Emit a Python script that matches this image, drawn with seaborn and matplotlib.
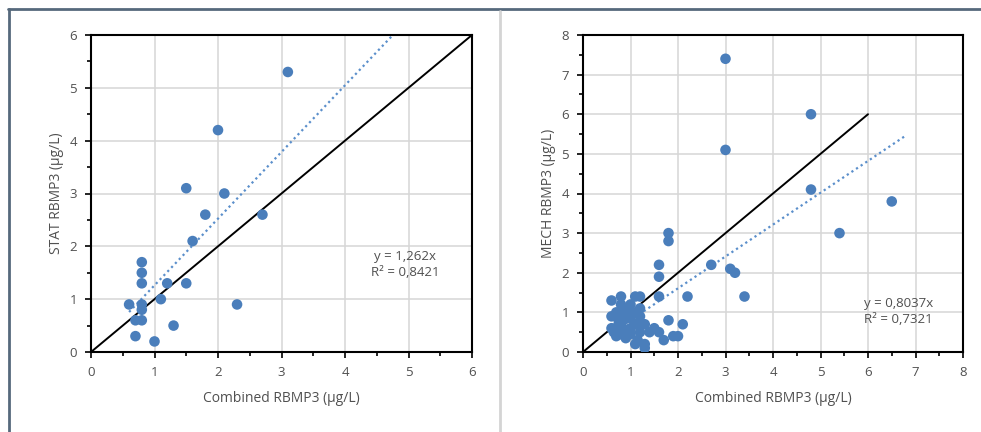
import numpy as np
import pandas as pd
import matplotlib
matplotlib.use('Agg')
import matplotlib.pyplot as plt
from matplotlib.lines import Line2D
import seaborn as sns

sns.set_style('white')
plt.rcParams['font.family'] = ['Open Sans', 'DejaVu Sans']

# left panel: STAT vs Combined
stat_x = [3.1, 2.0, 1.5, 2.1, 1.8, 2.7, 1.6, 0.8, 0.8, 0.8, 1.2, 1.5, 1.1,
          0.6, 0.8, 0.8, 2.3, 0.7, 0.8, 1.3, 0.7, 1.0]
stat_y = [5.3, 4.2, 3.1, 3.0, 2.6, 2.6, 2.1, 1.7, 1.5, 1.3, 1.3, 1.3, 1.0,
          0.9, 0.9, 0.8, 0.9, 0.6, 0.6, 0.5, 0.3, 0.2]
stat_slope = 1.262
stat_r2 = '0,8421'

# right panel: MECH vs Combined
mech_x = [3.0, 4.8, 3.0, 4.8, 6.5, 5.4, 1.8, 1.8, 1.6, 1.6, 2.7, 3.1, 3.2,
          1.6, 2.2, 3.4, 0.6, 0.8, 1.1, 1.2, 0.8, 1.0, 0.8, 0.6, 0.7, 0.95,
          1.2, 1.2, 0.6, 0.7, 0.8, 0.9, 1.0, 1.2, 1.3, 1.1, 0.85, 0.75, 1.0,
          0.65, 0.9, 1.05, 0.7, 0.8, 1.8, 2.1, 1.4, 1.5, 1.6, 1.7, 1.9, 2.0,
          1.1, 1.3, 1.3, 0.9, 1.0, 1.15, 0.75, 1.2]
mech_y = [7.4, 6.0, 5.1, 4.1, 3.8, 3.0, 3.0, 2.8, 2.2, 1.9, 2.2, 2.1, 2.0,
          1.4, 1.4, 1.4, 1.3, 1.4, 1.4, 1.4, 1.2, 1.2, 1.0, 0.9, 1.0, 1.1,
          1.1, 0.9, 0.6, 0.6, 0.45, 0.55, 0.45, 0.5, 0.7, 0.7, 0.8, 0.8, 0.85,
          0.5, 0.95, 1.0, 0.4, 0.65, 0.8, 0.7, 0.5, 0.6, 0.5, 0.3, 0.4, 0.4,
          0.2, 0.2, 0.1, 0.35, 0.6, 0.3, 0.7, 0.75]
mech_slope = 0.8037
mech_r2 = '0,7321'

dot_color = '#4a7ebb'
trend_color = '#5b8fcb'
text_color = '#505050'

fig = plt.figure(figsize=(9.81, 4.32), dpi=100)
fig.patch.set_facecolor('white')

ax1 = fig.add_axes([91/981, 1-352/432, 381/981, 317/432])
ax2 = fig.add_axes([583/981, 1-352/432, 380/981, 317/432])


def draw_panel(ax, xs, ys, slope, r2, lim, ylab, one_to_one_end, trend_end, txt_pos):
    df = pd.DataFrame({'x': xs, 'y': ys})
    ax.grid(True, color='#d6d6d6', linewidth=1.1)
    ax.set_axisbelow(True)
    ax.plot([0, one_to_one_end], [0, one_to_one_end], color='black', lw=1.4, zorder=2)
    tx = np.array([min(xs), trend_end])
    ax.plot(tx, slope * tx, color=trend_color, lw=1.6, ls=(0, (1, 1.5)), zorder=2)
    sns.scatterplot(data=df, x='x', y='y', ax=ax, color=dot_color, s=58,
                    edgecolor='none', zorder=3, legend=False)
    ax.set_xlim(0, lim)
    ax.set_ylim(0, lim)
    ax.set_xticks(range(lim + 1))
    ax.set_yticks(range(lim + 1))
    ax.set_xticks(np.arange(0.5, lim, 1.0), minor=True)
    ax.set_yticks(np.arange(0.5, lim, 1.0), minor=True)
    ax.tick_params(which='major', direction='out', length=4, width=1.2, color='black',
                   labelsize=9.5, labelcolor=text_color, pad=6)
    ax.tick_params(which='minor', direction='out', length=3, width=1.2, color='black')
    ax.tick_params(bottom=True, left=True, which='both')
    for sp in ax.spines.values():
        sp.set_color('black')
        sp.set_linewidth(1.5)
        sp.set_visible(True)
    ax.set_xlabel('Combined RBMP3 (µg/L)', fontsize=10, color=text_color, labelpad=9)
    ax.set_ylabel(ylab, fontsize=10, color=text_color, labelpad=4)
    eq = 'y = ' + f'{slope}'.replace('.', ',') + 'x'
    ax.text(txt_pos[0], txt_pos[1], eq + '\nR² = ' + r2, fontsize=9.5,
            color=text_color, ha=txt_pos[2], va='center', linespacing=1.3,
            transform=ax.transData)


draw_panel(ax1, stat_x, stat_y, stat_slope, stat_r2, 6, 'STAT RBMP3 (µg/L)',
           6, 5.0, (4.95, 1.65, 'center'))
draw_panel(ax2, mech_x, mech_y, mech_slope, mech_r2, 8, 'MECH RBMP3 (µg/L)',
           6, 6.8, (5.92, 1.03, 'left'))

# outer frame like the original document
fig.add_artist(Line2D([8/981, 1], [1-9/432, 1-9/432], color='#56697c', lw=2.0))
fig.add_artist(Line2D([9/981, 9/981], [0, 1-9/432], color='#56697c', lw=2.0))
fig.add_artist(Line2D([500/981, 500/981], [0, 1-11/432], color='#d4d4d4', lw=2.0))

fig.savefig('out.png', dpi=100, facecolor='white')
